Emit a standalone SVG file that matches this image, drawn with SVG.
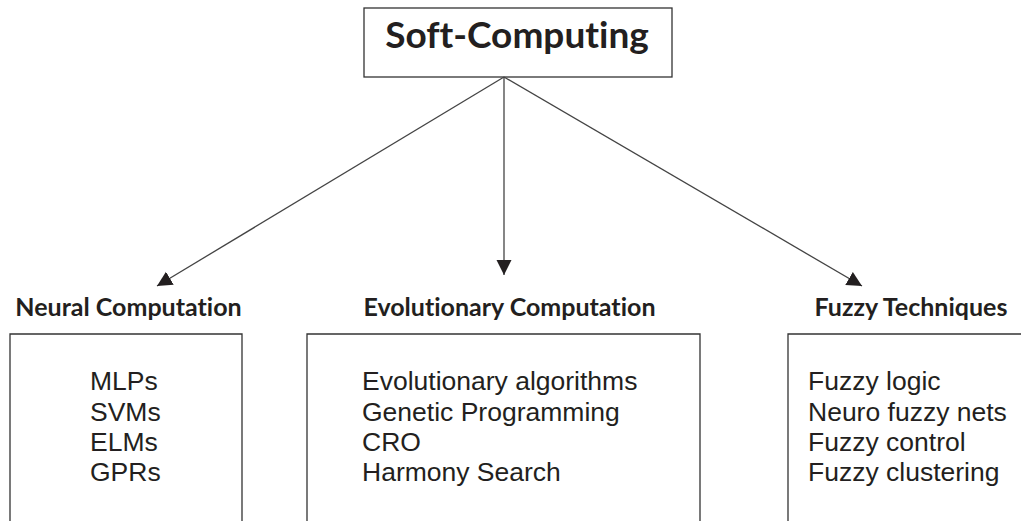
<svg xmlns="http://www.w3.org/2000/svg" width="1021" height="521" viewBox="0 0 1021 521">
<style>
.box{fill:#fff;stroke:#333;stroke-width:1.3}
.edge{fill:none;stroke:#444;stroke-width:1.3}
.title{font-family:Lato,"Open Sans",sans-serif;font-weight:bold;fill:#231f20;font-variant-ligatures:none}
.item{font-family:"Liberation Sans",Arial,sans-serif;font-size:26.5px;fill:#231f20}
</style>
<defs>
<marker id="arr" markerUnits="userSpaceOnUse" markerWidth="17" markerHeight="17" refX="15" refY="7.5" orient="auto">
<path d="M0,0 L15,7.5 L0,15 Z" fill="#231f20"/>
</marker>
</defs>
<rect width="1021" height="521" fill="#fff"/>
<g id="root">
<rect class="box" x="364" y="8" width="308" height="69"/>
<text class="title" x="517" y="48" font-size="37" text-anchor="middle">Soft-Computing</text>
</g>
<g id="connectors">
<line class="edge" x1="504" y1="77" x2="157" y2="286" marker-end="url(#arr)"/>
<line class="edge" x1="504" y1="77" x2="504" y2="275" marker-end="url(#arr)"/>
<line class="edge" x1="504" y1="77" x2="862" y2="286" marker-end="url(#arr)"/>
</g>
<g id="neural">
<text class="title" x="128.5" y="316" font-size="25" text-anchor="middle">Neural Computation</text>
<path class="box" d="M10,521 V334 H242 V521"/>
<text class="item" x="90" y="390">MLPs</text>
<text class="item" x="90" y="421">SVMs</text>
<text class="item" x="90" y="451">ELMs</text>
<text class="item" x="90" y="481">GPRs</text>
</g>
<g id="evolutionary">
<text class="title" x="509.5" y="316" font-size="25" text-anchor="middle">Evolutionary Computation</text>
<path class="box" d="M307,521 V334 H700 V521"/>
<text class="item" x="362" y="390">Evolutionary algorithms</text>
<text class="item" x="362" y="421">Genetic Programming</text>
<text class="item" x="362" y="451">CRO</text>
<text class="item" x="362" y="481">Harmony Search</text>
</g>
<g id="fuzzy">
<text class="title" x="911" y="316" font-size="25" text-anchor="middle">Fuzzy Techniques</text>
<path class="box" d="M788,521 V334 H1021"/>
<text class="item" x="808" y="390">Fuzzy logic</text>
<text class="item" x="808" y="421">Neuro fuzzy nets</text>
<text class="item" x="808" y="451">Fuzzy control</text>
<text class="item" x="808" y="481">Fuzzy clustering</text>
</g>
</svg>
